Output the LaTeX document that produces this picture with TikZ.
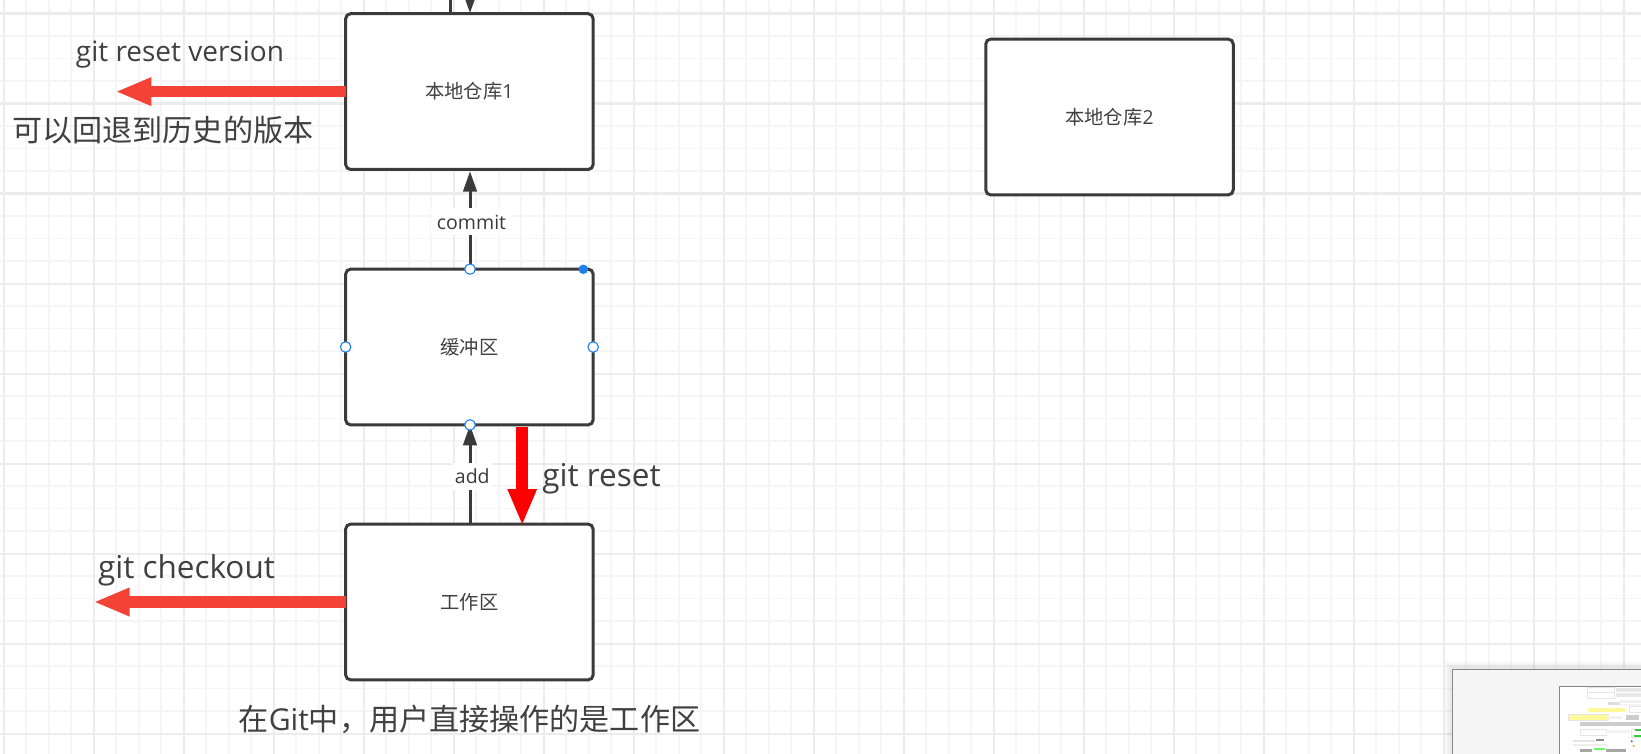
\documentclass[tikz,border=0pt]{standalone}
\usepackage{fontspec}
\setmainfont{Open Sans}
\newfontfamily\cjk{Noto Sans CJK SC}
\usetikzlibrary{arrows.meta,calc}
\definecolor{ink}{HTML}{3A3A3A}
\definecolor{textc}{HTML}{404040}
\definecolor{orangered}{HTML}{F44336}
\definecolor{gridminor}{HTML}{F5F5F5}
\definecolor{gridmajor}{HTML}{ECECEC}
\definecolor{handle}{HTML}{1E80F0}
\tikzset{
  procbox/.style={draw=ink,line width=3pt,rounded corners=5pt,fill=white,minimum width=247.5pt,minimum height=155.8pt,inner sep=0pt,outer sep=0pt,text=textc,font=\fontsize{19.3}{22}\selectfont\cjk},
  conn/.style={draw=ink,line width=3pt,-{Triangle[length=20.5pt,width=13.5pt,color=ink]}},
  conlabel/.style={fill=white,text=ink,font=\fontsize{19.5}{22}\selectfont,inner sep=0pt,outer sep=0pt},
  bigarrow/.style={line width=11.7pt,draw=orangered,-{Triangle[length=36pt,width=26pt,color=orangered]}},
  redarrow/.style={line width=11.7pt,draw=red,-{Triangle[length=36.7pt,width=26.7pt,color=red]}},
  note/.style={text=textc,inner sep=0pt,outer sep=0pt},
  hollowhandle/.style={circle,draw=handle,fill=white,line width=1.1pt,minimum size=10.5pt,inner sep=0pt,outer sep=0pt},
  solidhandle/.style={circle,fill=handle,minimum size=9.5pt,inner sep=0pt,outer sep=0pt}
}
\newcommand{\mmbar}[5]{\fill[#5] (#1,#2) rectangle (#3,#4);}
\newcommand{\mmbox}[4]{\draw[draw=black!10,fill=white,line width=0.5pt] (#1,#2) rectangle (#3,#4);}
\begin{document}
\begin{tikzpicture}[x=1pt,y=-1pt]
\useasboundingbox (0,0) rectangle (1641,754);
\clip (0,0) rectangle (1641,754);
\fill[white] (0,0) rectangle (1641,754);
% grid
\foreach \i [evaluate=\i as \gx using 3.7+22.5*\i] in {0,...,72}
  \draw[gridminor,line width=1.7pt] (\gx,0) -- (\gx,754);
\foreach \i [evaluate=\i as \gy using 13.6+22.5*\i] in {0,...,33}
  \draw[gridminor,line width=1.7pt] (0,\gy) -- (1641,\gy);
\foreach \i [evaluate=\i as \gx using 3.7+90*\i] in {0,...,18}
  \draw[gridmajor,line width=2.2pt] (\gx,0) -- (\gx,754);
\foreach \i [evaluate=\i as \gy using 13.6+90*\i] in {0,...,8}
  \draw[gridmajor,line width=2.2pt] (0,\gy) -- (1641,\gy);
% boxes
\node[procbox] (b1) at (469.4,91.6) {\raisebox{-1pt}{本地仓库{\fontspec{Open Sans}1}}};
\node[procbox] (b2) at (1109.5,117) {\raisebox{-1pt}{本地仓库{\fontspec{Open Sans}2}}};
\node[procbox] (buf) at (469.4,347) {\raisebox{-1pt}{缓冲区}};
\node[procbox] (work) at (469.4,602) {\raisebox{-1.5pt}{工作区}};
% connectors
\coordinate (topA) at (450.7,-10);
\coordinate (topB) at (470,-7);
\draw[ink,line width=3pt] (topA) -- (topA |- b1.north);
\draw[conn,shorten >=0.5pt] (topB) -- ($(b1.north)+(0.6,0)$);
\draw[conn,shorten >=1.7pt] ($(buf.north)+(0.6,0)$) -- ($(b1.south)+(0.6,0)$);
\draw[conn] ($(work.north)+(0.6,0)$) -- ($(buf.south)+(0.6,0)$);
\node[conlabel,minimum width=81pt,minimum height=27pt] (lc) at (471.5,222) {commit};
\node[conlabel,minimum width=39pt,minimum height=27pt] (la) at (472.3,476) {add};
% big arrows
\coordinate (t1) at (115.4,91.6);
\coordinate (t2) at (93.5,602);
\coordinate (r1) at (522.2,427);
\coordinate (r2) at (522.2,525.7);
\draw[bigarrow] (b1.west) -- (t1);
\draw[bigarrow] (work.west) -- (t2);
\draw[redarrow] (r1) -- (r2);
% notes
\node[note,font=\fontsize{28}{32}\selectfont] (n1) at (180,54.5) {git reset version};
\node[note,font=\fontsize{30.1}{34}\selectfont\cjk] (n2) at (162.8,130) {可以回退到历史的版本};
\node[note,font=\fontsize{31.5}{36}\selectfont] (n3) at (601.5,478.5) {git reset};
\node[note,font=\fontsize{31.5}{36}\selectfont] (n4) at (186.5,570) {git checkout};
\node[note,font=\fontsize{30.1}{34}\selectfont\cjk] (n5) at (469.5,719.5) {在{\fontspec{Open Sans}Git}中，用户直接操作的是工作区};
% handles
\node[hollowhandle] (h1) at ($(buf.north)+(0.6,0)$) {};
\node[hollowhandle] (h2) at ($(buf.south)+(0.6,0)$) {};
\node[hollowhandle] (h3) at (buf.west) {};
\node[hollowhandle] (h4) at (buf.east) {};
\node[solidhandle] (h5) at (583.3,269.3) {};
% minimap shadow and frame
\foreach \w in {2,4,6,8,10,12,14,16}
  \draw[black,opacity=0.012,line width=\w pt] (1452.3,669.3) rectangle (1700,800);
\draw[draw=black!47,fill=black!4,line width=1.3pt] (1452.3,669.3) rectangle (1700,800);
\draw[draw=black!47,fill=white,line width=1pt] (1559.3,686.7) rectangle (1700,800);
% minimap content
\begin{scope}[shift={(1540,680)},x=0.3333pt,y=-0.3333pt]
  \mmbox{143}{22}{223}{38}
  \mmbox{143}{38}{223}{54}
  \mmbar{228}{25}{303}{36}{black!9}
  \mmbar{228}{40}{303}{52}{black!9}
  \mmbar{205}{65}{240}{76}{black!13}
  \mmbar{240}{60}{303}{70}{black!6}
  \mmbar{240}{72}{303}{78}{black!4}
  \mmbar{145}{83}{255}{96}{yellow!40}
  \mmbox{268}{80}{303}{96}
  \draw[draw=black!10,fill=yellow!40,line width=0.5pt] (85,103) rectangle (205,122);
  \mmbar{205}{107}{245}{118}{black!5}
  \mmbar{258}{105}{298}{120}{black!20}
  \mmbar{120}{127}{303}{138}{black!20}
  \mmbox{120}{147}{198}{167}
  \mmbar{198}{150}{270}{160}{black!5}
  \mmbox{275}{147}{310}{172}
  \mmbar{285}{147}{303}{152}{green!75!black!80}
  \mmbar{282}{165}{303}{171}{green!75!black!80}
  \mmbar{100}{180}{165}{187}{black!10}
  \mmbar{168}{178}{192}{184}{black!45}
  \mmbar{100}{192}{200}{197}{black!7}
  \fill[violet!70] (275,184) circle (3.5);
  \fill[orange!80] (281,198) circle (3.5);
  \mmbar{120}{207}{155}{216}{black!35}
  \mmbar{163}{204}{195}{209}{green!60}
  \mmbar{197}{207}{258}{216}{black!35}
\end{scope}
\end{tikzpicture}
\end{document}
